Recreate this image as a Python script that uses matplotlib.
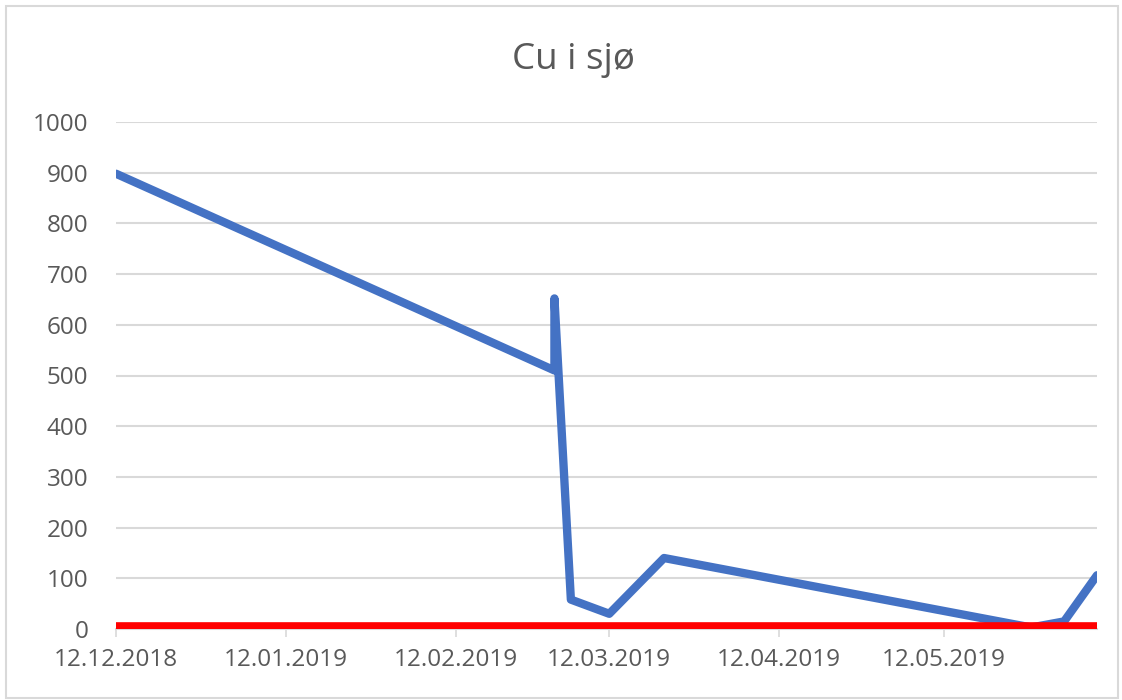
import numpy as np
import pandas as pd
import matplotlib
matplotlib.use("Agg")
import matplotlib.pyplot as plt
import matplotlib.dates as mdates
from matplotlib.patches import Rectangle

plt.rcParams['font.family'] = ['Open Sans', 'DejaVu Sans']

# Data
dates = pd.to_datetime([
    "2018-12-12", "2019-03-02", "2019-03-02", "2019-03-05", "2019-03-12",
    "2019-03-22", "2019-05-28", "2019-06-03", "2019-06-09",
])
cu_values = [898, 510, 652, 58, 30, 140, 3, 15, 106]
limit_values = [6, 6, 6, 6, 6, 6, 6, 6, 6]
tick_dates = pd.to_datetime([
    "2018-12-12", "2019-01-12", "2019-02-12", "2019-03-12", "2019-04-12", "2019-05-12",
])
y_ticks = list(range(0, 1001, 100))

fig = plt.figure(figsize=(11.22, 7.0), dpi=100)
ax = fig.add_axes([116/1122, 1 - 629/700, (1097 - 116)/1122, (629 - 122)/700])

# outer chart border
fig.patches.append(Rectangle((6/1122, 2/700), 1112/1122, 692/700, transform=fig.transFigure,
                             fill=False, edgecolor='#d9d9d9', linewidth=1.5))

ax.plot(dates, cu_values, color='#4472C4', linewidth=6, solid_joinstyle='round',
        solid_capstyle='round', zorder=3)
ax.plot(dates, limit_values, color='#FF0000', linewidth=5.5, solid_capstyle='round', zorder=4)

ax.set_xlim(dates[0], dates[-1])
ax.set_ylim(0, 1000)
ax.set_yticks(y_ticks)
ax.set_xticks(tick_dates)
ax.xaxis.set_major_formatter(mdates.DateFormatter('%d.%m.%Y'))

ax.grid(axis='y', color='#d9d9d9', linewidth=1.5)
ax.set_axisbelow(True)
for s in ['top', 'right', 'left']:
    ax.spines[s].set_visible(False)
ax.spines['bottom'].set_color('#d9d9d9')
ax.spines['bottom'].set_linewidth(1.5)

ax.tick_params(axis='y', length=0, pad=20, labelsize=17.5, labelcolor='#595959')
ax.tick_params(axis='x', length=6, width=1.2, color='#d9d9d9', pad=8,
               labelsize=17.5, labelcolor='#595959')

fig.text(573/1122, 1 - 69/700, 'Cu i sjø', ha='center', va='baseline',
         fontsize=26.5, color='#595959')

fig.savefig('out.png', dpi=100)
